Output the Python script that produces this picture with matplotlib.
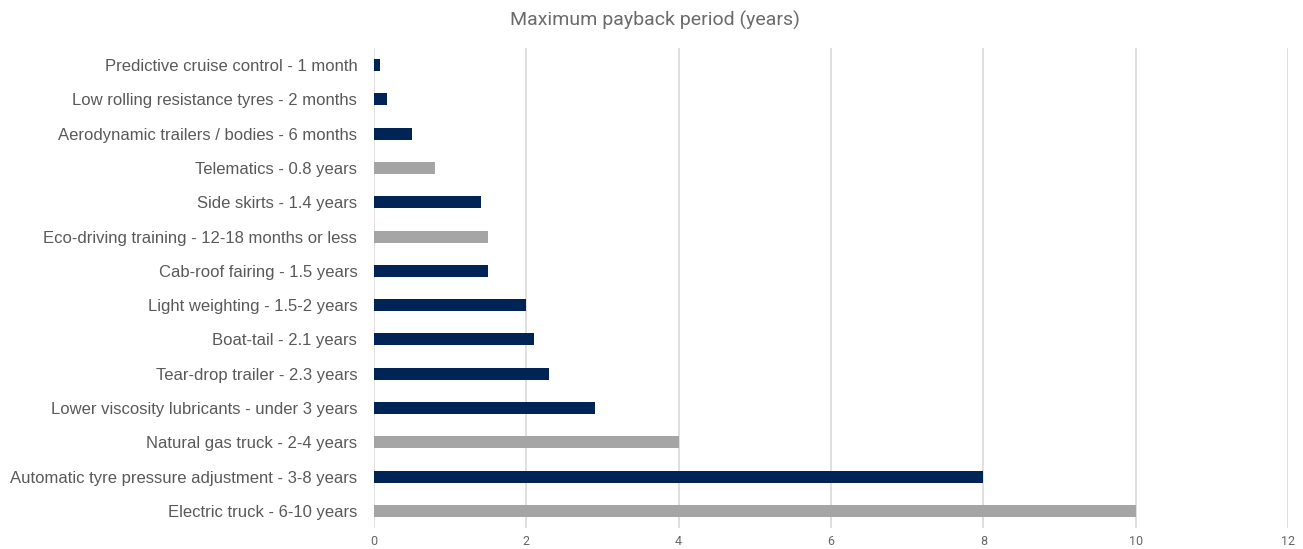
import matplotlib.pyplot as plt

labels = [
    "Predictive cruise control - 1 month",
    "Low rolling resistance tyres - 2 months",
    "Aerodynamic trailers / bodies - 6 months",
    "Telematics - 0.8 years",
    "Side skirts - 1.4 years",
    "Eco-driving training - 12-18 months or less",
    "Cab-roof fairing - 1.5 years",
    "Light weighting - 1.5-2 years",
    "Boat-tail - 2.1 years",
    "Tear-drop trailer - 2.3 years",
    "Lower viscosity lubricants - under 3 years",
    "Natural gas truck - 2-4 years",
    "Automatic tyre pressure adjustment - 3-8 years",
    "Electric truck - 6-10 years",
]
payback_years = [1 / 12, 2 / 12, 0.5, 0.8, 1.4, 1.5, 1.5, 2.0, 2.1, 2.3, 2.9, 4.0, 8.0, 10.0]
is_grey = [False, False, False, True, False, True, False, False, False, False, False, True, False, True]

NAVY = "#012456"
GREY = "#a5a5a5"

fig = plt.figure(figsize=(13.03, 5.49), dpi=100)
ax = fig.add_axes([374 / 1303, 21 / 549, 914 / 1303, 480 / 549])

colors = [GREY if g else NAVY for g in is_grey]
ypos = list(range(len(labels)))
ax.barh(ypos, payback_years, height=0.35, color=colors, zorder=3)

ax.set_ylim(len(labels) - 0.5, -0.5)
ax.set_xlim(0, 12)
ax.set_xticks(range(0, 13, 2))
ax.set_yticks(ypos)
ax.set_yticklabels(labels, fontsize=12, color="#595959", family=["Liberation Sans", "DejaVu Sans"])
ax.tick_params(axis="y", length=0, pad=12)
ax.tick_params(axis="x", length=0, pad=5, labelsize=9, labelcolor="#666666")
for t in ax.get_xticklabels():
    t.set_family("Roboto")

ax.grid(axis="x", color="#d9d9d9", linewidth=1.2, zorder=0)
for s in ax.spines.values():
    s.set_visible(False)

fig.text(655 / 1303, 1 - 20 / 549, "Maximum payback period (years)", ha="center", va="center",
         fontsize=14, color="#6b6b6b", family="Roboto")

fig.savefig("out.png", dpi=100)
